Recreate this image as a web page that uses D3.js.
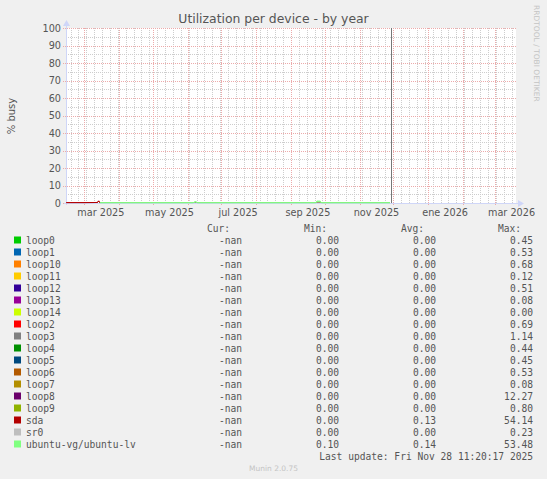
<!DOCTYPE html>
<html>
  <head>
    <meta charset="UTF-8">
    <style>
      html, body { margin: 0; padding: 0; background: #f0f0f0; }
      text { font-family: "DejaVu Sans", sans-serif; }
      .mono { font-family: "DejaVu Sans Mono", monospace; }
    </style>
    <script src="https://d3js.org/d3.v7.min.js"></script>
  </head>
  <body>
    <div id="viz"></div>
    <script>
      // ---- data ----
      const devices = ["loop0", "loop1", "loop10", "loop11", "loop12", "loop13", "loop14",
                       "loop2", "loop3", "loop4", "loop5", "loop6", "loop7", "loop8", "loop9",
                       "sda", "sr0", "ubuntu-vg/ubuntu-lv"];
      const colors = ["#00CC00", "#0066B3", "#FF8000", "#FFCC00", "#330099", "#990099", "#CCFF00",
                      "#FF0000", "#808080", "#008F00", "#00487D", "#B35A00", "#B38F00", "#6B006B",
                      "#8FB300", "#B30000", "#BEBEBE", "#80FF80"];
      const curValues = ["-nan", "-nan", "-nan", "-nan", "-nan", "-nan", "-nan", "-nan", "-nan",
                         "-nan", "-nan", "-nan", "-nan", "-nan", "-nan", "-nan", "-nan", "-nan"];
      const minValues = [0, 0, 0, 0, 0, 0, 0, 0, 0, 0, 0, 0, 0, 0, 0, 0, 0, 0.10];
      const avgValues = [0, 0, 0, 0, 0, 0, 0, 0, 0, 0, 0, 0, 0, 0, 0, 0.13, 0, 0.14];
      const maxValues = [0.45, 0.53, 0.68, 0.12, 0.51, 0.08, 0.00, 0.69, 1.14, 0.44, 0.45, 0.53,
                         0.08, 12.27, 0.80, 54.14, 0.23, 53.48];

      const monthNames = ["ene", "feb", "mar", "abr", "may", "jun", "jul", "ago", "sep", "oct", "nov", "dic"];
      const yTicks = [0, 10, 20, 30, 40, 50, 60, 70, 80, 90, 100];

      // series samples (yearly averages, % busy)
      const loopPoints = [["2025-03-15", 0], ["2025-11-28", 0]];
      const sdaPoints = [["2025-02-13", 0.2], ["2025-03-01", 0.2], ["2025-03-13", 0.3],
                         ["2025-03-14", 1.2], ["2025-03-15", 0.2]];
      const lvPoints = [["2025-03-15", 0.1], ["2025-06-06", 0.1], ["2025-06-08", 0.8],
                        ["2025-06-10", 0.1], ["2025-09-23", 0.1], ["2025-09-24", 1.0],
                        ["2025-09-27", 1.0], ["2025-09-28", 0.1], ["2025-11-28", 0.1]];
      const sr0Points = [["2025-03-15", 0], ["2025-11-28", 0]];

      const lastUpdate = "Fri Nov 28 11:20:17 2025";
      const lastUpdateDate = new Date(2025, 10, 28, 11, 20, 17);

      // ---- layout ----
      let width = 547, height = 479;
      let plot = {left: 66, right: 516, top: 28, bottom: 203};

      const parse = d3.timeParse("%Y-%m-%d");
      const start = new Date(2025, 1, 13);
      const end = d3.timeDay.offset(start, 400);

      const x = d3.scaleTime().domain([start, end]).range([plot.left, plot.right]);
      const y = d3.scaleLinear().domain([0, 100]).range([plot.bottom, plot.top]);

      const svg = d3.select("#viz").append("svg")
          .attr("width", width)
          .attr("height", height)
          .style("display", "block");

      svg.append("rect").attr("width", width).attr("height", height).attr("fill", "#f0f0f0");
      svg.append("rect")
          .attr("x", plot.left).attr("y", plot.top)
          .attr("width", plot.right - plot.left).attr("height", plot.bottom - plot.top)
          .attr("fill", "#ffffff");

      const minorColor = "rgb(205,205,205)";
      const majorColor = "rgb(236,170,170)";

      // minor grid: every 5 % and every week
      const grid = svg.append("g").attr("shape-rendering", "crispEdges");
      grid.selectAll(".hmin")
        .data(d3.range(5, 100, 10))
        .join("line")
          .attr("x1", plot.left).attr("x2", plot.right)
          .attr("y1", d => Math.round(y(d)) + 0.5).attr("y2", d => Math.round(y(d)) + 0.5)
          .attr("stroke", minorColor).attr("stroke-dasharray", "1,1");
      grid.selectAll(".vmin")
        .data(d3.timeMonday.range(start, end))
        .join("line")
          .attr("x1", d => Math.round(x(d)) + 0.5).attr("x2", d => Math.round(x(d)) + 0.5)
          .attr("y1", plot.top).attr("y2", plot.bottom)
          .attr("stroke", minorColor).attr("stroke-dasharray", "1,1");

      // major grid: every 10 % and every month
      grid.selectAll(".hmaj")
        .data(yTicks)
        .join("line")
          .attr("x1", plot.left - 3).attr("x2", plot.right)
          .attr("y1", d => Math.round(y(d)) + 0.5).attr("y2", d => Math.round(y(d)) + 0.5)
          .attr("stroke", majorColor).attr("stroke-dasharray", "1,1");
      grid.selectAll(".vmaj")
        .data(d3.timeMonth.range(start, end))
        .join("line")
          .attr("x1", d => Math.round(x(d)) + 0.5).attr("x2", d => Math.round(x(d)) + 0.5)
          .attr("y1", plot.top).attr("y2", plot.bottom + 3)
          .attr("stroke", majorColor).attr("stroke-dasharray", "1,1");

      // series lines
      const line = d3.line()
          .defined(d => d[1] != null)
          .x(d => x(parse(d[0])))
          .y(d => y(d[1]));

      const seriesPoints = devices.map(name =>
        name === "sda" ? sdaPoints :
        name === "ubuntu-vg/ubuntu-lv" ? lvPoints :
        name === "sr0" ? sr0Points : loopPoints);

      svg.append("g")
        .selectAll("path")
        .data(devices)
        .join("path")
          .attr("d", (d, i) => line(seriesPoints[i]))
          .attr("fill", "none")
          .attr("stroke", (d, i) => colors[i])
          .attr("stroke-width", 1);

      // axes (munin lavender) with arrows
      const axisColor = "#CFD6F8";
      svg.append("line")
          .attr("x1", plot.left + 0.5).attr("x2", plot.left + 0.5)
          .attr("y1", plot.bottom + 2).attr("y2", plot.top - 3)
          .attr("stroke", axisColor);
      svg.append("path")
          .attr("d", `M${plot.left - 3},${plot.top - 2}L${plot.left + 0.5},${plot.top - 8}L${plot.left + 4},${plot.top - 2}Z`)
          .attr("fill", axisColor);
      svg.append("line")
          .attr("x1", plot.left - 2).attr("x2", plot.right + 3)
          .attr("y1", plot.bottom + 0.5).attr("y2", plot.bottom + 0.5)
          .attr("stroke", axisColor);
      svg.append("path")
          .attr("d", `M${plot.right + 2},${plot.bottom - 3}L${plot.right + 8},${plot.bottom + 0.5}L${plot.right + 2},${plot.bottom + 4}Z`)
          .attr("fill", axisColor);

      // redraw series that sit on the axis so they stay on top of it
      svg.append("g")
        .selectAll("path")
        .data(["sda", "ubuntu-vg/ubuntu-lv"])
        .join("path")
          .attr("d", d => line(seriesPoints[devices.indexOf(d)]))
          .attr("fill", "none")
          .attr("stroke", d => colors[devices.indexOf(d)])
          .attr("stroke-width", 1);

      // last update marker
      svg.append("line")
          .attr("x1", Math.round(x(lastUpdateDate)) + 0.5).attr("x2", Math.round(x(lastUpdateDate)) + 0.5)
          .attr("y1", plot.top).attr("y2", plot.bottom)
          .attr("stroke", "#777777");

      // tick labels
      svg.append("g")
        .selectAll("text")
        .data(yTicks)
        .join("text")
          .attr("x", plot.left - 5)
          .attr("y", d => y(d) + 3.5)
          .attr("text-anchor", "end")
          .attr("font-size", "9.7px")
          .attr("fill", "#555555")
          .text(d => d);

      svg.append("g")
        .selectAll("text")
        .data(d3.timeMonth.every(2).range(start, end))
        .join("text")
          .attr("x", d => x(d3.timeDay.offset(d, 15)))
          .attr("y", plot.bottom + 13)
          .attr("text-anchor", "middle")
          .attr("font-size", "9.7px")
          .attr("fill", "#555555")
          .text(d => `${monthNames[d.getMonth()]} ${d.getFullYear()}`);

      // title and side texts
      svg.append("text")
          .attr("x", width / 2).attr("y", 23)
          .attr("text-anchor", "middle")
          .attr("font-size", "12.4px")
          .attr("fill", "#555555")
          .text("Utilization per device - by year");

      svg.append("text")
          .attr("transform", "translate(15,116) rotate(-90)")
          .attr("text-anchor", "middle")
          .attr("font-size", "10px")
          .attr("fill", "#555555")
          .text("% busy");

      svg.append("text")
          .attr("transform", "translate(534,5) rotate(90)")
          .attr("text-anchor", "start")
          .attr("font-size", "7.5px")
          .attr("fill", "#c4c4c4")
          .text("RRDTOOL / TOBI OETIKER");

      // legend
      const legend = svg.append("g").attr("class", "mono")
          .attr("font-size", "9.6px")
          .attr("fill", "#555555");

      const cols = [242, 339, 436, 533];
      const headers = ["Cur:", "Min:", "Avg:", "Max:"];
      const rowTop = 240, rowStep = 12;

      legend.selectAll(".hdr")
        .data(headers)
        .join("text")
          .attr("class", "mono")
          .attr("x", (d, i) => cols[i] - 12)
          .attr("y", rowTop - rowStep + 3.5)
          .attr("text-anchor", "end")
          .text(d => d);

      const rows = legend.selectAll(".row")
        .data(devices)
        .join("g")
          .attr("transform", (d, i) => `translate(0,${rowTop + i * rowStep})`);

      rows.append("rect")
          .attr("x", 14).attr("y", -3.5)
          .attr("width", 7).attr("height", 7)
          .attr("fill", (d, i) => colors[i]);
      rows.append("text")
          .attr("class", "mono")
          .attr("x", 26).attr("y", 3.5)
          .text(d => d);

      const fmt = d3.format(".2f");
      const colValues = [curValues, minValues.map(fmt), avgValues.map(fmt), maxValues.map(fmt)];
      colValues.forEach((vals, c) => {
        rows.append("text")
            .attr("class", "mono")
            .attr("x", cols[c]).attr("y", 3.5)
            .attr("text-anchor", "end")
            .text((d, i) => vals[i]);
      });

      legend.append("text")
          .attr("class", "mono")
          .attr("x", 533).attr("y", rowTop + devices.length * rowStep + 3.5)
          .attr("text-anchor", "end")
          .text("Last update: " + lastUpdate);

      svg.append("text")
          .attr("x", width / 2).attr("y", rowTop + (devices.length + 1) * rowStep + 3)
          .attr("text-anchor", "middle")
          .attr("font-size", "7.5px")
          .attr("fill", "#c4c4c4")
          .text("Munin 2.0.75");
    </script>
  </body>
</html>
